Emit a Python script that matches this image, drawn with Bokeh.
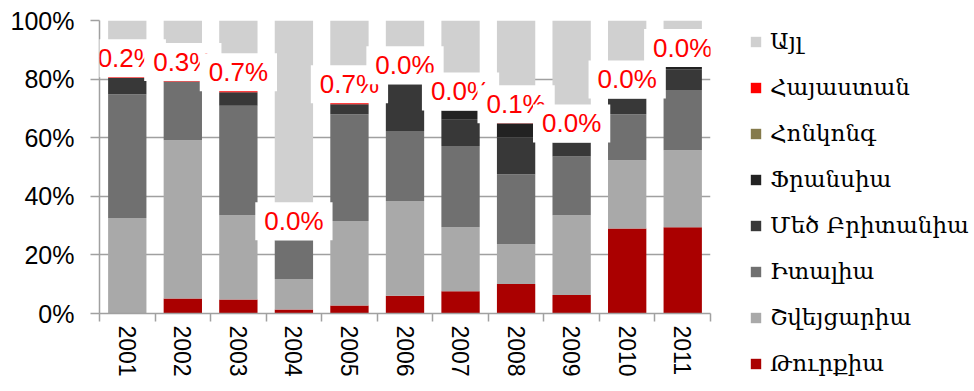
from bokeh.plotting import figure
from bokeh.models import (ColumnDataSource, Range1d, FixedTicker, Label,
                          Legend, LegendItem)
from bokeh.embed import file_html
from bokeh.resources import INLINE

years = ["2001", "2002", "2003", "2004", "2005", "2006",
         "2007", "2008", "2009", "2010", "2011"]
# shares in percent, bottom to top of each stack
turkey      = [0.0, 5.1, 4.8, 1.4, 2.7, 6.1, 7.6, 10.1, 6.3, 29.0, 29.4]
switzerland = [32.6, 54.0, 28.7, 10.4, 28.9, 32.3, 21.8, 13.5, 27.2, 23.3, 26.3]
italy       = [42.2, 20.1, 37.4, 13.2, 36.4, 23.9, 27.8, 23.9, 20.1, 15.7, 20.6]
britain     = [5.7, 0.0, 4.6, 0.0, 3.4, 15.9, 8.9, 12.6, 4.8, 5.4, 7.1]
france      = [0.0, 0.0, 0.0, 0.0, 0.0, 0.0, 3.2, 4.8, 0.0, 0.0, 0.7]
hongkong    = [0.0, 0.0, 0.0, 0.0, 0.0, 0.0, 0.0, 0.0, 0.0, 0.0, 0.0]
armenia     = [0.2, 0.3, 0.7, 0.0, 0.7, 0.0, 0.0, 0.1, 0.0, 0.0, 0.0]
other       = [19.3, 20.5, 23.8, 75.0, 27.9, 21.8, 30.7, 35.0, 41.6, 26.6, 15.9]

series_keys = ["turkey", "switzerland", "italy", "britain", "france",
               "hongkong", "armenia", "other"]
series_names = ["Թուրքիա", "Շվեյցարիա", "Իտալիա", "Մեծ Բրիտանիա",
                "Ֆրանսիա", "Հոնկոնգ", "Հայաստան", "Այլ"]
colors = ["#aa0000", "#a9a9a9", "#707070", "#383838",
          "#222222", "#857a4b", "#ff0000", "#d0d0d0"]

xpos = [i + 0.5 for i in range(len(years))]
data = dict(x=xpos, turkey=turkey, switzerland=switzerland, italy=italy,
            britain=britain, france=france, hongkong=hongkong,
            armenia=armenia, other=other)
src = ColumnDataSource(data)

p = figure(frame_width=611, frame_height=293, output_backend="svg",
           toolbar_location=None,
           x_range=Range1d(0, len(years)), y_range=Range1d(0, 100),
           min_border_left=99, min_border_right=264, min_border_top=20,
           min_border_bottom=78)
p.outline_line_color = None
p.background_fill_color = "white"
p.border_fill_color = "white"

renderers = p.vbar_stack(series_keys, x="x", width=0.69, source=src,
                         color=colors, line_color=None)

# data labels for Armenia share, anchored at the Armenia segment
for i in range(len(years)):
    base = (turkey[i] + switzerland[i] + italy[i] + britain[i] +
            france[i] + hongkong[i])
    p.add_layout(Label(x=xpos[i], y=base + armenia[i] / 2,
                       text="%.1f%%" % armenia[i],
                       text_align="center", text_baseline="bottom",
                       text_color="#ff0000", text_font="Liberation Sans",
                       text_font_size="26px", background_fill_color="white",
                       padding=(9, 4)))

# axes
p.xgrid.visible = False
p.ygrid.ticker = FixedTicker(ticks=[20, 40, 60, 80, 100])
p.ygrid.grid_line_color = "#a0a0a0"
p.ygrid.grid_line_width = 1.5

p.yaxis.ticker = FixedTicker(ticks=[0, 20, 40, 60, 80, 100])
p.yaxis.major_label_overrides = {v: "%d%%" % v for v in [0, 20, 40, 60, 80, 100]}
p.yaxis.major_label_text_font = "Liberation Sans"
p.yaxis.major_label_text_font_size = "25px"
p.yaxis.major_label_text_color = "black"
p.yaxis.major_tick_out = 9
p.yaxis.major_tick_in = 0
p.yaxis.minor_tick_out = 0
p.yaxis.minor_tick_in = 0
p.yaxis.major_label_standoff = 16
p.yaxis.axis_line_color = "#a0a0a0"
p.yaxis.major_tick_line_color = "#a0a0a0"
p.yaxis.axis_line_width = 1.5
p.yaxis.major_tick_line_width = 1.5

p.xaxis.ticker = FixedTicker(ticks=xpos, minor_ticks=list(range(len(years) + 1)))
p.xaxis.major_label_overrides = {x: y for x, y in zip(xpos, years)}
p.xaxis.major_label_orientation = "vertical"
p.xaxis.major_label_text_font = "Liberation Sans"
p.xaxis.major_label_text_font_size = "23px"
p.xaxis.major_label_text_color = "black"
p.xaxis.major_tick_out = 0
p.xaxis.major_tick_in = 0
p.xaxis.minor_tick_out = 8
p.xaxis.minor_tick_in = 0
p.xaxis.major_label_standoff = 4
p.xaxis.axis_line_color = "#a0a0a0"
p.xaxis.minor_tick_line_color = "#a0a0a0"
p.xaxis.axis_line_width = 1.5
p.xaxis.minor_tick_line_width = 1.5

# legend (reversed order: top series first)
items = [LegendItem(label=series_names[k], renderers=[renderers[k]])
         for k in reversed(range(len(series_keys)))]
legend = Legend(items=items, location=(39, -63), orientation="vertical",
                glyph_width=13, glyph_height=13, label_standoff=8,
                label_height=26, spacing=20, padding=0, margin=0,
                border_line_color=None, background_fill_alpha=0,
                label_text_font="DejaVu Serif", label_text_font_size="23px",
                label_text_color="black")
p.add_layout(legend, "right")

open("out.html", "w").write(file_html(p, INLINE))
